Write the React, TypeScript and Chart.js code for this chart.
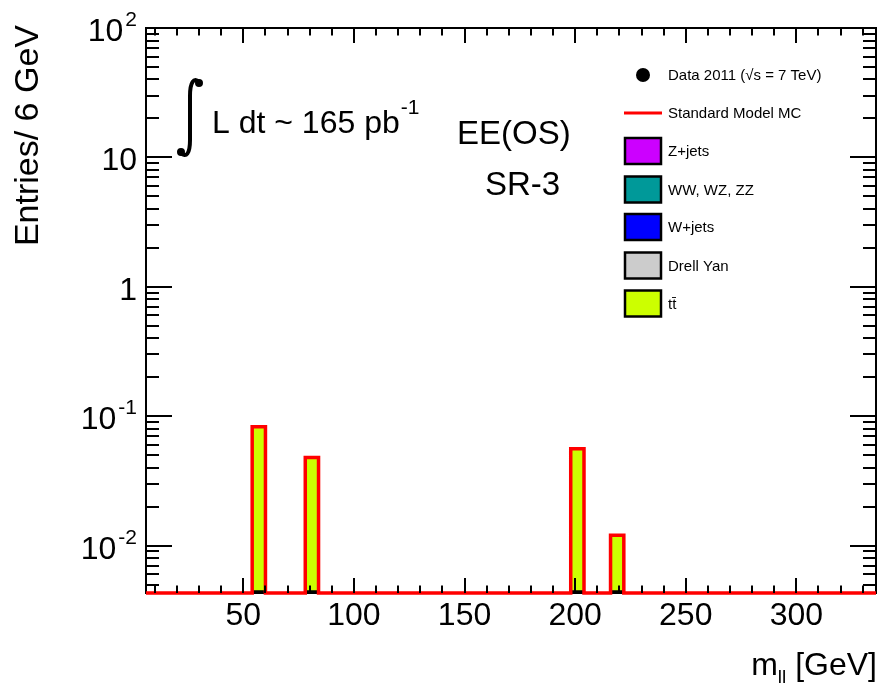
import React, { useEffect, useRef } from 'react';
import { Chart, registerables } from 'chart.js';

Chart.register(...registerables);

// ---- data ----
const BIN_WIDTH = 6;
const X_MIN = 6;
const X_MAX = 336;
const Y_MIN = 0.0043;
const Y_MAX = 100;

// non-empty ttbar bins (low edge, GeV) and their contents
const ttbarBinLow = [54, 78, 198, 216];
const ttbarValues = [0.083, 0.048, 0.056, 0.012];

const xTickLabels = [50, 100, 150, 200, 250, 300];
const yTickExponents = [-2, -1, 0, 1, 2];
const yTickBase = ['10', '10', '1', '10', '10'];
const yTickSup = ['-2', '-1', '', '', '2'];

const legendLabels = ['Data 2011 (\u221As = 7 TeV)', 'Standard Model MC', 'Z+jets', 'WW, WZ, ZZ', 'W+jets', 'Drell Yan', 'tt\u0304'];
const legendKinds = ['marker', 'line', 'box', 'box', 'box', 'box', 'box'];
const legendColors = ['#000000', '#ff0000', '#cc00ff', '#009999', '#0000ff', '#cccccc', '#ccff00'];

const FONT = '"Liberation Sans", Arial, Helvetica, sans-serif';

const nBins = Math.round((X_MAX - X_MIN) / BIN_WIDTH);
const binLows = Array.from({ length: nBins }, (_, i) => X_MIN + i * BIN_WIDTH);
const ttbarHist: (number | null)[] = binLows.map((lo) => {
  const j = ttbarBinLow.indexOf(lo);
  return j >= 0 ? ttbarValues[j] : null;
});

const framePlugin = {
  id: 'rootFrame',
  beforeDatasetsDraw(chart: any) {
    const { ctx, chartArea } = chart;
    const { left, right, top, bottom } = chartArea;
    ctx.save();
    ctx.strokeStyle = '#000';
    ctx.lineWidth = 2;
    ctx.strokeRect(Math.round(left), Math.round(top), Math.round(right - left), Math.round(bottom - top));
    ctx.restore();
  },
  afterDatasetsDraw(chart: any) {
    const { ctx, chartArea } = chart;
    const { left, right, top, bottom } = chartArea;
    const xs = chart.scales.x;
    const ys = chart.scales.y;
    ctx.save();
    ctx.strokeStyle = '#000';
    ctx.lineWidth = 2;
    const seg = (x1: number, y1: number, x2: number, y2: number) => {
      ctx.beginPath();
      ctx.moveTo(x1, y1);
      ctx.lineTo(x2, y2);
      ctx.stroke();
    };
    // x ticks (bottom and top)
    for (let v = 10; v < X_MAX; v += 10) {
      const px = Math.round(xs.getPixelForValue(v));
      const len = v % 50 === 0 ? 15 : 7.5;
      seg(px, bottom, px, bottom - len);
      seg(px, top, px, top + len);
    }
    // y ticks (left and right)
    for (let e = -3; e <= 2; e++) {
      for (let k = 1; k <= 9; k++) {
        const v = k * Math.pow(10, e);
        if (v < Y_MIN || v > Y_MAX * 1.0001) continue;
        const py = Math.round(ys.getPixelForValue(v));
        const len = k === 1 ? 26 : 13;
        seg(left, py, left + len, py);
        seg(right, py, right - len, py);
      }
    }
    // x tick labels
    ctx.fillStyle = '#000';
    ctx.font = `32px ${FONT}`;
    ctx.textAlign = 'center';
    ctx.textBaseline = 'alphabetic';
    xTickLabels.forEach((v) => {
      ctx.fillText(String(v), xs.getPixelForValue(v), 625);
    });
    // y tick labels
    const labelRight = 137;
    yTickExponents.forEach((e, i) => {
      const py = ys.getPixelForValue(Math.pow(10, e));
      const base = yTickBase[i];
      const sup = yTickSup[i];
      ctx.textAlign = 'left';
      ctx.font = `21px ${FONT}`;
      const sw = sup ? ctx.measureText(sup).width : 0;
      ctx.font = `32px ${FONT}`;
      const bw = ctx.measureText(base).width;
      const gap = sup ? 2 : 0;
      ctx.fillText(base, labelRight - sw - gap - bw, py + 13);
      if (sup) {
        ctx.font = `21px ${FONT}`;
        ctx.fillText(sup, labelRight - sw, py - 2);
      }
    });
    // axis titles
    ctx.font = `34px ${FONT}`;
    ctx.save();
    ctx.translate(38, 25);
    ctx.rotate(-Math.PI / 2);
    ctx.textAlign = 'right';
    ctx.fillText('Entries/ 6 GeV', 0, 0);
    ctx.restore();
    // x title: m_ll [GeV], right aligned
    {
      const rest = ' [GeV]';
      ctx.font = `32px ${FONT}`;
      const rw = ctx.measureText(rest).width;
      const mw = ctx.measureText('m').width;
      ctx.font = `19px ${FONT}`;
      const sw = ctx.measureText('ll').width;
      const xr = 877;
      const base = 675;
      ctx.textAlign = 'left';
      ctx.font = `32px ${FONT}`;
      ctx.fillText('m', xr - rw - sw - mw, base);
      ctx.fillText(rest, xr - rw, base);
      ctx.font = `19px ${FONT}`;
      ctx.fillText('ll', xr - rw - sw, base + 8);
    }
    // integral luminosity annotation
    ctx.lineWidth = 4;
    ctx.lineCap = 'round';
    ctx.beginPath();
    ctx.moveTo(199, 82);
    ctx.bezierCurveTo(194, 77, 190, 82, 190, 96);
    ctx.lineTo(190, 140);
    ctx.bezierCurveTo(190, 154, 186, 158, 181, 153);
    ctx.stroke();
    ctx.beginPath();
    ctx.arc(199, 83, 4, 0, Math.PI * 2);
    ctx.arc(181, 152, 4, 0, Math.PI * 2);
    ctx.fill();
    ctx.font = `32px ${FONT}`;
    ctx.textAlign = 'left';
    const lumi = 'L dt ~ 165 pb';
    ctx.fillText(lumi, 212, 133);
    const lw = ctx.measureText(lumi).width;
    ctx.font = `21px ${FONT}`;
    ctx.fillText('-1', 212 + lw + 1, 114);
    // channel and region
    ctx.font = `33px ${FONT}`;
    ctx.fillText('EE(OS)', 457, 144);
    ctx.fillText('SR-3', 485, 195);
    // legend
    const rowY = [75, 113, 151, 189.5, 227, 265.5, 303.5];
    ctx.font = `15px ${FONT}`;
    ctx.textBaseline = 'middle';
    legendLabels.forEach((lab, i) => {
      const cy = rowY[i];
      const kind = legendKinds[i];
      if (kind === 'marker') {
        ctx.fillStyle = legendColors[i];
        ctx.beginPath();
        ctx.arc(643, cy, 7, 0, Math.PI * 2);
        ctx.fill();
      } else if (kind === 'line') {
        ctx.strokeStyle = legendColors[i];
        ctx.lineWidth = 3;
        ctx.lineCap = 'butt';
        ctx.beginPath();
        ctx.moveTo(624, cy);
        ctx.lineTo(662, cy);
        ctx.stroke();
      } else {
        ctx.fillStyle = legendColors[i];
        ctx.fillRect(625, cy - 13, 36, 26);
        ctx.strokeStyle = '#000';
        ctx.lineWidth = 2.5;
        ctx.strokeRect(625, cy - 13, 36, 26);
      }
      ctx.fillStyle = '#000';
      ctx.fillText(lab, 668, cy + 1);
    });
    ctx.restore();
  },
};

export default function App() {
  const canvasRef = useRef<HTMLCanvasElement | null>(null);

  useEffect(() => {
    const canvas = canvasRef.current;
    if (!canvas) return;

    const barData = binLows.map((lo, i) => ({ x: lo + BIN_WIDTH / 2, y: ttbarHist[i] }));
    const lineData = binLows.map((lo, i) => ({ x: lo, y: ttbarHist[i] ?? Y_MIN }));
    lineData.push({ x: X_MAX, y: ttbarHist[nBins - 1] ?? Y_MIN });

    const chart = new Chart(canvas, {
      type: 'bar',
      data: {
        datasets: [
          {
            type: 'line',
            label: 'Standard Model MC',
            data: lineData,
            borderColor: '#ff0000',
            borderWidth: 3.5,
            stepped: 'before',
            pointRadius: 0,
            fill: false,
            clip: false,
            borderJoinStyle: 'miter',
            order: 0,
          } as any,
          {
            type: 'bar',
            label: 'tt\u0304',
            data: barData,
            backgroundColor: '#ccff00',
            borderColor: '#000000',
            borderWidth: { top: 0, left: 0, right: 0, bottom: 3 },
            borderSkipped: false,
            barPercentage: 1,
            categoryPercentage: 1,
            order: 1,
          } as any,
        ],
      },
      options: {
        animation: false,
        responsive: false,
        maintainAspectRatio: false,
        devicePixelRatio: 1,
        layout: { padding: { left: 146, right: 4, top: 28, bottom: 102 } },
        plugins: { legend: { display: false }, tooltip: { enabled: false } },
        scales: {
          x: { type: 'linear', min: X_MIN, max: X_MAX, offset: false, display: false, bounds: 'data' },
          y: { type: 'logarithmic', min: Y_MIN, max: Y_MAX, display: false, bounds: 'data' },
        },
      } as any,
      plugins: [framePlugin],
    });

    return () => chart.destroy();
  }, []);

  return (
    <div style={{ position: 'absolute', left: 0, top: 0, width: 880, height: 695, background: '#fff' }}>
      <canvas ref={canvasRef} width={880} height={695} style={{ display: 'block' }} />
    </div>
  );
}
